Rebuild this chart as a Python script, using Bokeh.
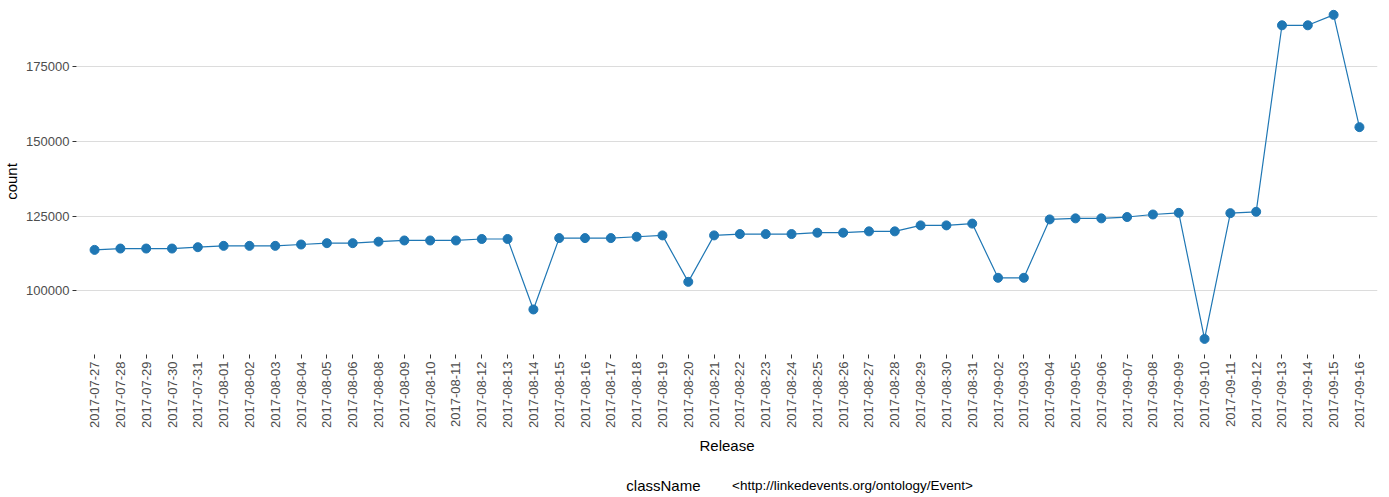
from bokeh.plotting import figure
from bokeh.layouts import column
from bokeh.models import (ColumnDataSource, FactorRange, Range1d, FixedTicker,
                          BasicTickFormatter, Legend, LegendItem, Label)
from bokeh.embed import file_html
from bokeh.resources import INLINE
import math

releases = [
    "2017-07-27", "2017-07-28", "2017-07-29", "2017-07-30", "2017-07-31",
    "2017-08-01", "2017-08-02", "2017-08-03", "2017-08-04", "2017-08-05",
    "2017-08-06", "2017-08-08", "2017-08-09", "2017-08-10", "2017-08-11",
    "2017-08-12", "2017-08-13", "2017-08-14", "2017-08-15", "2017-08-16",
    "2017-08-17", "2017-08-18", "2017-08-19", "2017-08-20", "2017-08-21",
    "2017-08-22", "2017-08-23", "2017-08-24", "2017-08-25", "2017-08-26",
    "2017-08-27", "2017-08-28", "2017-08-29", "2017-08-30", "2017-08-31",
    "2017-09-02", "2017-09-03", "2017-09-04", "2017-09-05", "2017-09-06",
    "2017-09-07", "2017-09-08", "2017-09-09", "2017-09-10", "2017-09-11",
    "2017-09-12", "2017-09-13", "2017-09-14", "2017-09-15", "2017-09-16",
]
counts = [
    113700, 114150, 114150, 114150, 114600,
    115050, 115050, 115050, 115500, 115950,
    115950, 116450, 116850, 116850, 116850,
    117350, 117350, 93750, 117650, 117650,
    117650, 118100, 118550, 103000, 118550,
    119000, 119000, 119000, 119450, 119450,
    119900, 119900, 121900, 121900, 122500,
    104350, 104350, 123900, 124250, 124250,
    124700, 125550, 126100, 83900, 126000,
    126450, 188900, 188900, 192400, 154800,
]
y_ticks = [100000, 125000, 150000, 175000]
legend_title = "className"
class_name = "<http://linkedevents.org/ontology/Event>"

color = "#1f77b4"
font = "Liberation Sans"

source = ColumnDataSource(data=dict(release=releases, count=counts))

# ---------------- main chart ----------------
p = figure(
    width=1373, height=460,
    frame_width=1301, frame_height=346,
    x_range=FactorRange(factors=releases, range_padding=0.2,
                        range_padding_units="absolute"),
    y_range=Range1d(78670, 194520),
    output_backend="svg", toolbar_location=None,
    min_border_left=70, min_border_right=2, min_border_top=8,
    min_border_bottom=106,
)
p.outline_line_color = None
p.background_fill_color = "white"

p.line(x="release", y="count", source=source, line_color=color, line_width=1.2)
p.scatter(x="release", y="count", source=source, size=9,
          fill_color=color, line_color=color)

p.xgrid.grid_line_color = None
p.ygrid.grid_line_color = "#dcdcdc"
p.ygrid.grid_line_width = 1
p.ygrid.ticker = FixedTicker(ticks=y_ticks)

p.yaxis.ticker = FixedTicker(ticks=y_ticks)
p.yaxis.formatter = BasicTickFormatter(use_scientific=False)
p.yaxis.axis_label = "count"

p.xaxis.axis_label = "Release"
p.xaxis.major_label_orientation = math.pi / 2

for ax in (p.xaxis[0], p.yaxis[0]):
    ax.axis_line_color = None
    ax.major_tick_line_color = "#333333"
    ax.major_tick_out = 4
    ax.major_tick_in = 0
    ax.minor_tick_line_color = None
    ax.major_label_text_font = font
    ax.major_label_text_font_size = "13px"
    ax.major_label_text_color = "#4d4d4d"
    ax.major_label_standoff = 3
    ax.axis_label_text_font = font
    ax.axis_label_text_font_size = "15px"
    ax.axis_label_text_font_style = "normal"
    ax.axis_label_text_color = "black"
    ax.axis_label_standoff = 5

p.yaxis.axis_label_standoff = 3
p.xaxis.axis_label_standoff = 6

# ---------------- legend strip ----------------
lg = figure(
    width=1373, height=37,
    x_range=Range1d(0, 1), y_range=Range1d(0, 1),
    x_axis_type=None, y_axis_type=None,
    output_backend="svg", toolbar_location=None,
    min_border=0,
)
lg.outline_line_color = None
lg.xgrid.visible = False
lg.ygrid.visible = False

k_line = lg.line(x=[], y=[], line_color=color, line_width=1.2)
k_pts = lg.scatter(x=[], y=[], size=9, fill_color=color, line_color=color)

legend = Legend(
    items=[LegendItem(label=class_name, renderers=[k_line, k_pts])],
    location=(631, 4),
    orientation="horizontal",
    label_text_font=font, label_text_font_size="13.5px", label_text_color="black",
    glyph_width=20, glyph_height=16, label_standoff=5,
    border_line_color=None, background_fill_alpha=0,
    padding=0, margin=0, spacing=0,
)
lg.add_layout(legend, "center")

lg.add_layout(Label(x=624, y=12, x_units="screen", y_units="screen",
                    text=legend_title, text_align="right", text_baseline="middle",
                    text_font=font, text_font_size="15px", text_color="black"))

layout = column(p, lg, spacing=0)

open("out.html", "w").write(file_html(layout, INLINE))
